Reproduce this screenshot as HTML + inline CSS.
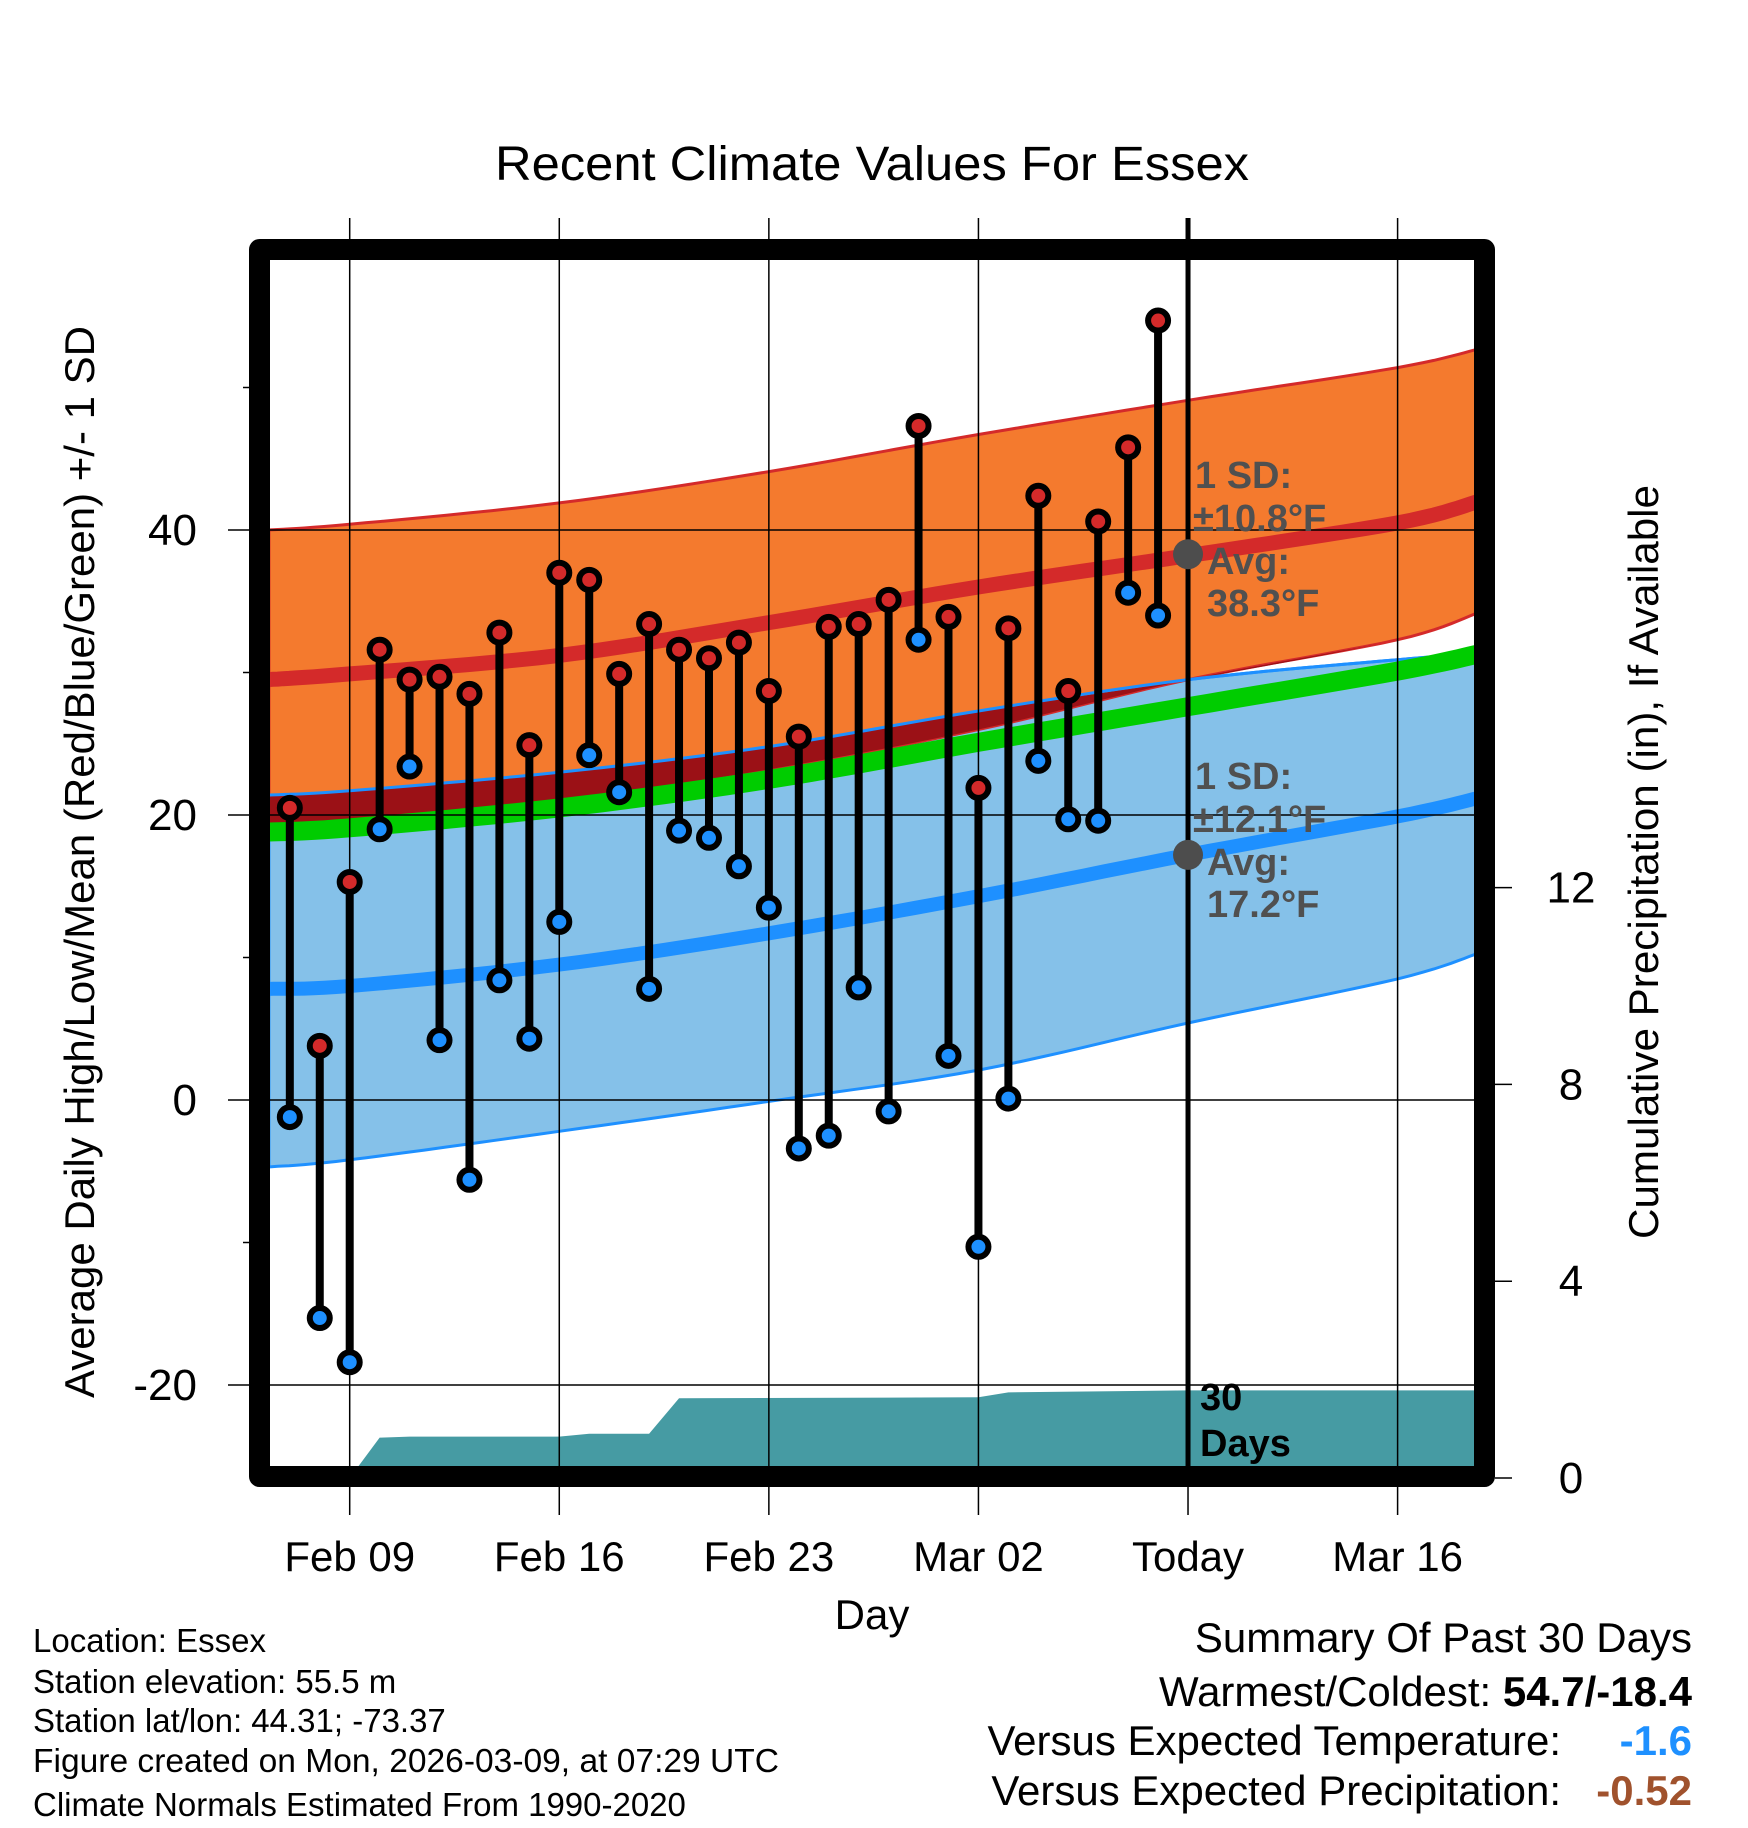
<!DOCTYPE html>
<html><head><meta charset="utf-8"><style>
html,body{margin:0;padding:0;background:#fff;}
svg{display:block;font-family:"Liberation Sans",sans-serif;}
</style></head><body>
<svg id="chart" width="1748" height="1828" viewBox="0 0 1748 1828" xmlns="http://www.w3.org/2000/svg">
<defs><clipPath id="plotclip"><rect x="270" y="260" width="1207" height="1208"/></clipPath></defs>
<g id="plot" clip-path="url(#plotclip)"></g>
<g id="overlay"></g>
<text x="872" y="180" font-size="48" text-anchor="middle" textLength="754" lengthAdjust="spacingAndGlyphs">Recent Climate Values For Essex</text>
<text x="872" y="1629" font-size="42" text-anchor="middle">Day</text>
<text transform="translate(94,862) rotate(-90)" font-size="42" text-anchor="middle" textLength="1072" lengthAdjust="spacingAndGlyphs">Average Daily High/Low/Mean (Red/Blue/Green) +/- 1 SD</text>
<text transform="translate(1658,862) rotate(-90)" font-size="42" text-anchor="middle" textLength="754" lengthAdjust="spacingAndGlyphs">Cumulative Precipitation (in), If Available</text>
<g font-size="33">
<text x="33" y="1652">Location: Essex</text>
<text x="33" y="1693">Station elevation: 55.5 m</text>
<text x="33" y="1732">Station lat/lon: 44.31; -73.37</text>
<text x="33" y="1772" textLength="746" lengthAdjust="spacingAndGlyphs">Figure created on Mon, 2026-03-09, at 07:29 UTC</text>
<text x="33" y="1816">Climate Normals Estimated From 1990-2020</text>
</g>
<g font-size="42" text-anchor="end">
<text x="1692" y="1652">Summary Of Past 30 Days</text>
<text x="1692" y="1706">Warmest/Coldest: <tspan font-weight="bold">54.7/-18.4</tspan></text>
<text x="1561" y="1755">Versus Expected Temperature:</text>
<text x="1692" y="1755" font-weight="bold" fill="#1e90ff">-1.6</text>
<text x="1561" y="1805">Versus Expected Precipitation:</text>
<text x="1692" y="1805" font-weight="bold" fill="#a0522d">-0.52</text>
</g>
</svg>
<script>
// days relative to Feb 09
const normDays = [-2.7, 0, 7, 14, 21, 28, 35, 37.7];
const highUpper = [40, 40.4, 41.9, 44.1, 46.7, 49.1, 51.4, 52.7];
const highMean  = [29.5, 29.9, 31.2, 33.5, 36.0, 38.2, 40.5, 42.0];
const highLower = [18.8, 19.2, 21.0, 23.2, 26.0, 29.5, 32.3, 34.2];
const meanLine  = [18.8, 19.1, 20.5, 22.5, 25.1, 27.6, 30.1, 31.3];
const lowUpper  = [21.4, 21.7, 23.0, 24.8, 27.3, 29.5, 30.9, 31.3];
const lowMean   = [7.8, 8.0, 9.5, 11.7, 14.3, 17.2, 19.9, 21.2];
const lowLower  = [-4.7, -4.2, -2.2, -0.1, 2.1, 5.4, 8.5, 10.3];
const obsDays = [-2,-1,0,1,2,3,4,5,6,7,8,9,10,11,12,13,14,15,16,17,18,19,20,21,22,23,24,25,26,27];
const obsHigh = [20.5,3.8,15.3,31.6,29.5,29.7,28.5,32.8,24.9,37.0,36.5,29.9,33.4,31.6,31.0,32.1,28.7,25.5,33.2,33.4,35.1,47.3,33.9,21.9,33.1,42.4,28.7,40.6,45.8,54.7];
const obsLow  = [-1.2,-15.3,-18.4,19.0,23.4,4.2,-5.6,8.4,4.3,12.5,24.2,21.6,7.8,18.9,18.4,16.4,13.5,-3.4,-2.5,7.9,-0.8,32.3,3.1,-10.3,0.1,23.8,19.7,19.6,35.6,34.0];
const precipDays = [0,1,2,7,8,10,11,21,22,28,37.7];
const precipVals = [0,0.82,0.84,0.84,0.9,0.9,1.62,1.64,1.74,1.78,1.78];
const xTickDays = [0,7,14,21,28,35];
const xTickLabels = ["Feb 09","Feb 16","Feb 23","Mar 02","Today","Mar 16"];
const yTicks = [-20,0,20,40];
const yMinor = [-10,10,30,50];
const y2Ticks = [0,4,8,12];
const todayDay = 28, todayHigh = 38.3, todayLow = 17.2;

const NS="http://www.w3.org/2000/svg";
const X = d => 349.7 + d*29.94;
const Y = t => 530 + (40 - t)*14.25;
const YP = p => 1478 - p*49.2;
const plot=document.getElementById('plot'), ov=document.getElementById('overlay'), svg=document.getElementById('chart');
function mk(tag, attrs, parent){const e=document.createElementNS(NS,tag);for(const k in attrs)e.setAttribute(k,attrs[k]);parent.appendChild(e);return e;}
// smooth sampled curve (Catmull-Rom interpolation of the read values)
function curvePts(arr){
  const pts=normDays.map((d,i)=>[X(d),Y(arr[i])]);const out=[];
  for(let i=0;i<pts.length-1;i++){
    const p0=pts[Math.max(i-1,0)],p1=pts[i],p2=pts[i+1],p3=pts[Math.min(i+2,pts.length-1)];
    for(let s=0;s<10;s++){const t=s/10,t2=t*t,t3=t2*t;
      const f=(a,b,c,d)=>0.5*((2*b)+(-a+c)*t+(2*a-5*b+4*c-d)*t2+(-a+3*b-3*c+d)*t3);
      out.push([f(p0[0],p1[0],p2[0],p3[0]),f(p0[1],p1[1],p2[1],p3[1])]);}
  }
  out.push(pts[pts.length-1]);return out;
}
const str=p=>p.map(q=>q[0].toFixed(1)+','+q[1].toFixed(1)).join(' ');
function band(up, lo){return str(curvePts(up).concat(curvePts(lo).reverse()));}
function line(arr){return str(curvePts(arr));}

let e;
e=mk('polygon',{points:band(lowUpper,lowLower),fill:'#85c1e9',stroke:'#1e90ff','stroke-width':3},plot);


e=mk('polygon',{points:band(highUpper,highLower),fill:'#f47a2e',stroke:'#d42a2a','stroke-width':3},plot);


// overlap region
const maxArr=normDays.map((d,i)=>Math.max(lowUpper[i],highLower[i]));
e=mk('polygon',{points:band(maxArr,highLower),fill:'#9b1116'},plot);


e=mk('polyline',{points:line(lowUpper),fill:'none',stroke:'#1e90ff','stroke-width':3},plot);


e=mk('polyline',{points:line(meanLine),fill:'none',stroke:'#00cc00','stroke-width':19},plot);


e=mk('polyline',{points:line(highMean),fill:'none',stroke:'#d42a2a','stroke-width':15},plot);


e=mk('polyline',{points:line(lowMean),fill:'none',stroke:'#1e90ff','stroke-width':14},plot);


// precip
let pp=[X(precipDays[0])+','+1480];
precipDays.forEach((d,i)=>pp.push(X(d)+','+YP(precipVals[i])));
pp.push(X(precipDays[precipDays.length-1])+','+1480);
e=mk('polygon',{points:pp.join(' '),fill:'#469ba3'},plot);


// gridlines
yTicks.forEach(t=>{e=mk('line',{x1:228,x2:1477,y1:Y(t),y2:Y(t),stroke:'#000','stroke-width':1.5},svg);


svg.insertBefore(e,ov);});
xTickDays.forEach((d,i)=>{e=mk('line',{x1:X(d),x2:X(d),y1:218,y2:1515,stroke:'#000','stroke-width':1.5},svg);


svg.insertBefore(e,ov);
e=mk('text',{x:X(d),y:1571,'font-size':42,'text-anchor':'middle'},svg);e.textContent=xTickLabels[i];

});
yMinor.forEach(t=>{e=mk('line',{x1:243,x2:250,y1:Y(t),y2:Y(t),stroke:'#000','stroke-width':1.5},svg);

});
yTicks.forEach(t=>{e=mk('text',{x:197,y:Y(t)+15,'font-size':44,'text-anchor':'end'},svg);e.textContent=t;

});
y2Ticks.forEach(p=>{e=mk('line',{x1:1495,x2:1512,y1:YP(p),y2:YP(p),stroke:'#000','stroke-width':1.5},svg);


e=mk('text',{x:1571,y:YP(p)+15,'font-size':44,'text-anchor':'middle'},svg);e.textContent=p;

});
// today line
e=mk('line',{x1:X(todayDay),x2:X(todayDay),y1:218,y2:1470,stroke:'#000','stroke-width':5},ov);


// annotations
function txt(x,y,s,fill){const t=mk('text',{x:x,y:y,'font-size':38,'font-weight':'bold',fill:fill},ov);t.textContent=s;return t;}
const ax=X(todayDay);
[[todayHigh,'±10.8°F','38.3°F',['high-sd-label','high-sd-value','high-avg-label','high-avg-value']],[todayLow,'±12.1°F','17.2°F',['low-sd-label','low-sd-value','low-avg-label','low-avg-value']]].forEach(a=>{
 const cy=Y(a[0]);
 e=mk('circle',{cx:ax,cy:cy,r:15,fill:'#4d4d4d'},ov);
 
 
 e=txt(ax+7,cy-66,'1 SD:','#505050');
 
 
 e=txt(ax+5,cy-23,a[1],'#505050');
 
 
 e=txt(ax+19,cy+20,'Avg:','#505050');
 
 
 e=txt(ax+19,cy+62,a[2],'#505050');
 
 
});
e=txt(ax+12,1410,'30','#000');


e=txt(ax+12,1456,'Days','#000');


// observations
obsDays.forEach((d,i)=>{
 const g=mk('g',{},ov);
 
 
 mk('line',{x1:X(d),x2:X(d),y1:Y(obsHigh[i]),y2:Y(obsLow[i]),stroke:'#000','stroke-width':8},g);
 e=mk('circle',{cx:X(d),cy:Y(obsHigh[i]),r:10,fill:'#d42a2a',stroke:'#000','stroke-width':6},g);
 
 
 e=mk('circle',{cx:X(d),cy:Y(obsLow[i]),r:10,fill:'#1e90ff',stroke:'#000','stroke-width':6},g);
 
 
});
// frame
e=mk('rect',{x:259.5,y:249.5,width:1225,height:1227,fill:'none',stroke:'#000','stroke-width':21,'stroke-linejoin':'round'},ov);


</script>
</body></html>
